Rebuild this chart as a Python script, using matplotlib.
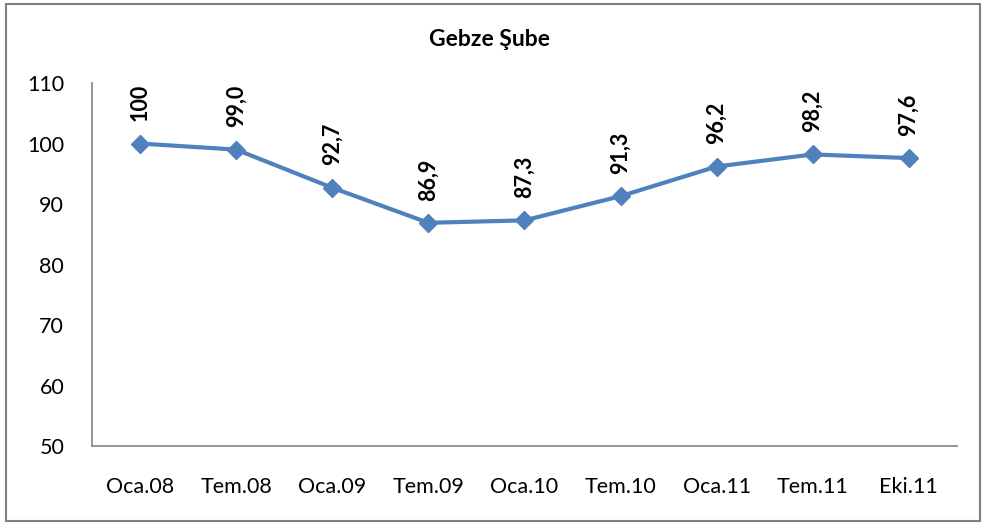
import matplotlib.pyplot as plt
from matplotlib.patches import Rectangle

LINE_COLOR = "#4F81BD"
AXIS_COLOR = "#8C8C8C"

periods = ["Oca.08", "Tem.08", "Oca.09", "Tem.09", "Oca.10", "Tem.10", "Oca.11", "Tem.11", "Eki.11"]
values = [100, 99.0, 92.7, 86.9, 87.3, 91.3, 96.2, 98.2, 97.6]
labels = ["100", "99,0", "92,7", "86,9", "87,3", "91,3", "96,2", "98,2", "97,6"]

plt.rcParams["font.family"] = ["Lato", "DejaVu Sans"]

fig = plt.figure(figsize=(9.85, 5.23), dpi=100)
ax = fig.add_axes([0.0934, 0.1472, 0.878, 0.694])

x = range(len(periods))
ax.plot(x, values, color=LINE_COLOR, linewidth=3, marker="D", markersize=9.5, zorder=3)

for xi, v, lab in zip(x, values, labels):
    ax.annotate(lab, (xi, v), xytext=(0, 16), textcoords="offset points",
                rotation=90, ha="center", va="bottom", fontsize=15.5, fontweight="bold")

ax.set_xlim(-0.5, len(periods) - 0.5)
ax.set_ylim(50, 110)
ax.set_yticks(range(50, 111, 10))
ax.set_xticks(list(x))
ax.set_xticklabels(periods)
ax.tick_params(length=0, labelsize=15.5, colors="black")
ax.tick_params(axis="y", pad=20)
ax.tick_params(axis="x", pad=22)

for side in ["top", "right"]:
    ax.spines[side].set_visible(False)
for side in ["left", "bottom"]:
    ax.spines[side].set_color(AXIS_COLOR)
    ax.spines[side].set_linewidth(1.3)

fig.text(0.497, 0.924, "Gebze Şube", ha="center", va="center", fontsize=16.5, fontweight="bold")

fig.patches.append(Rectangle((0.006, 0.003), 0.989, 0.99, transform=fig.transFigure,
                             fill=False, edgecolor="#7F7F7F", linewidth=1.5))

fig.savefig("out.png", dpi=100, facecolor="white")
